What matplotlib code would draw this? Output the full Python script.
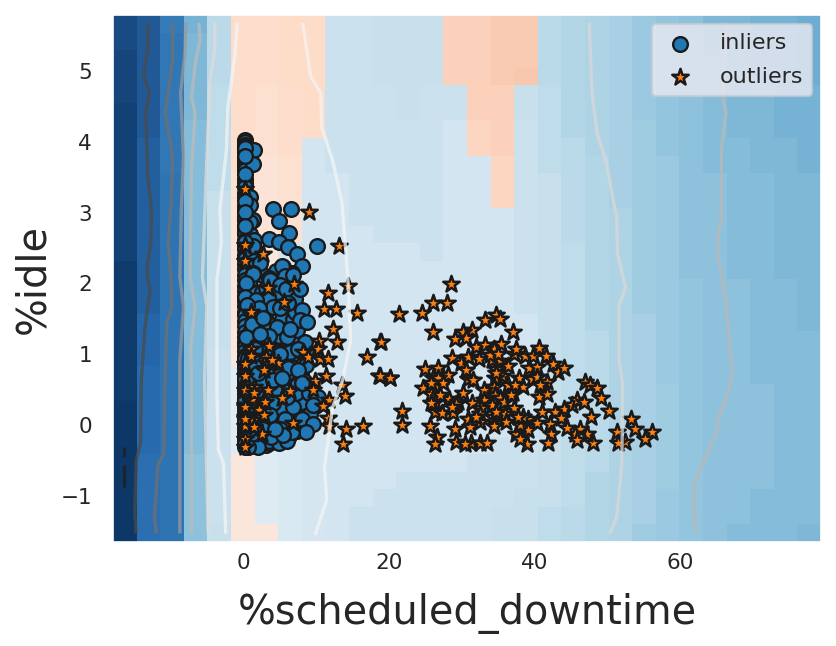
import matplotlib
matplotlib.use("Agg")
import matplotlib.pyplot as plt
import numpy as np

W, H = 837, 646
xlim = (-18.0, 79.4)
ylim = (-1.65, 5.79)

# decision score on a 30 x 30 grid, top row first (percent position on RdBu)
score_rows = [
 [96,93,86,74,64,41,41,40,40,61,61,62,62,62,38,38,37,37,64,65,66,67,69,70,71,73,73,74,74,75],
 [96,93,87,73,64,41,41,40,40,61,61,62,62,62,38,38,37,37,64,65,66,67,69,70,71,73,73,74,74,75],
 [97,93,87,73,64,41,41,40,40,61,61,62,62,62,38,38,37,37,64,65,66,67,69,70,71,72,73,74,74,75],
 [97,93,87,73,64,41,41,40,40,61,61,62,62,62,38,38,37,36,64,65,66,67,69,70,71,72,73,74,74,75],
 [97,93,87,73,63,41,42,41,40,61,61,61,62,61,61,38,38,62,63,65,66,67,69,70,71,72,73,73,74,74],
 [98,93,87,73,63,41,42,41,40,61,61,61,62,61,61,38,38,62,63,65,66,67,69,70,71,72,73,73,74,74],
 [98,93,87,72,63,41,42,41,40,61,61,61,61,61,60,39,38,61,63,65,66,67,68,70,71,72,73,73,74,74],
 [98,92,87,72,63,41,42,41,60,61,61,61,61,61,60,39,38,61,63,64,66,67,68,70,71,72,72,73,73,74],
 [98,92,87,72,63,41,43,42,60,61,61,61,61,61,60,60,39,61,63,64,65,67,68,69,71,72,72,73,73,74],
 [98,92,88,72,63,42,43,42,60,60,61,61,61,61,60,60,39,61,62,64,65,67,68,69,71,71,72,72,73,73],
 [98,92,88,72,62,42,43,42,60,60,61,61,61,61,60,60,39,61,62,64,65,67,68,69,71,71,72,72,73,73],
 [98,92,88,72,62,42,43,42,60,60,61,61,61,61,60,60,60,61,62,64,65,66,68,69,71,71,72,72,73,73],
 [98,92,88,72,62,42,43,42,60,60,60,61,61,61,60,60,60,61,62,64,65,66,68,69,71,71,72,72,73,73],
 [98,92,88,72,62,43,44,59,60,60,60,60,60,61,60,60,60,61,62,63,65,66,68,69,71,71,72,72,73,73],
 [99,92,88,72,62,43,44,59,60,60,60,60,60,60,60,60,60,61,62,63,65,66,68,69,71,71,72,72,73,73],
 [99,92,88,72,62,43,57,59,60,60,60,60,60,60,60,60,60,61,62,63,65,66,68,69,70,71,71,72,72,73],
 [99,92,88,72,62,43,57,59,60,60,60,60,60,60,60,60,60,61,62,63,65,66,68,69,70,71,71,72,72,73],
 [99,91,88,72,62,43,57,59,59,60,60,60,60,60,60,60,60,60,62,63,65,66,67,69,70,71,71,72,72,73],
 [99,91,88,72,62,44,57,59,59,60,60,60,60,60,60,60,60,60,62,63,64,66,67,69,70,71,71,72,72,72],
 [99,91,88,72,61,44,57,59,59,60,60,60,60,60,60,60,60,60,62,63,64,66,67,69,70,71,71,72,72,72],
 [99,90,88,72,61,57,57,58,59,60,60,60,60,60,60,60,60,60,62,63,64,66,67,69,70,71,71,72,72,72],
 [99,90,88,72,61,57,57,58,59,60,60,60,60,60,60,60,60,60,62,63,64,66,67,68,70,71,71,71,72,72],
 [100,90,88,72,61,57,57,58,59,60,60,60,60,60,60,60,60,60,62,63,64,66,67,68,70,71,71,71,72,72],
 [100,90,88,72,61,57,57,58,59,60,60,60,60,60,60,60,60,61,62,63,64,66,67,68,70,71,71,71,72,72],
 [100,90,88,72,61,57,57,58,59,60,60,60,60,60,60,60,61,61,62,63,64,66,67,68,70,71,71,71,72,72],
 [100,89,88,71,61,44,57,58,59,60,60,60,60,60,60,61,61,61,62,63,64,66,67,68,70,71,71,71,72,72],
 [100,89,88,71,61,44,57,58,59,60,60,60,61,61,61,61,61,61,62,63,65,66,67,68,70,71,71,71,72,72],
 [100,89,88,71,61,44,57,58,59,60,60,61,61,61,61,61,61,62,62,63,65,66,67,69,70,71,71,72,72,72],
 [100,89,88,71,61,44,57,58,59,60,61,61,61,61,61,61,62,62,63,64,65,66,67,69,70,71,71,72,72,72],
 [100,89,88,71,62,44,44,58,59,60,61,61,61,61,61,61,62,62,63,64,65,66,68,69,70,71,72,72,72,73],
]

inlier_column = [
 (0.15,4.02),(0.15,3.99),(0.15,3.96),(0.15,3.93),(0.15,3.88),(0.15,3.85),(0.15,3.75),(0.15,3.70),(0.15,3.65),(0.15,3.60),
 (0.15,3.48),(0.15,3.42),(0.15,3.36),(0.15,3.28),(0.15,3.22),(0.15,3.10),(0.15,3.05),(0.15,2.95),(0.15,2.90),(0.15,2.83),
 (0.15,2.75),(0.15,2.70),(0.15,2.62),(0.15,2.55),(0.15,2.48),(0.15,2.40),(0.15,2.35),(0.15,2.28),(0.15,2.20),(0.15,2.12),
 (0.15,2.05),(0.15,1.96),(0.15,1.90),(0.15,1.82),(0.15,1.75),(0.15,1.68),(0.15,1.60),(0.15,1.55),(0.15,1.47),(0.15,1.40),
 (0.15,1.32),(0.15,1.25),(0.15,1.18),(0.15,1.12),(0.15,1.05),(0.15,0.98),(0.15,0.92),(0.15,0.86),(0.15,0.80),(0.15,0.74),
 (0.15,0.68),(0.15,0.62),(0.15,0.56),(0.15,0.50),(0.15,0.44),(0.15,0.38),(0.15,0.32),(0.15,0.26),(0.15,0.20),(0.15,0.14),
 (0.15,0.08),(0.15,0.02),(0.15,-0.04),(0.15,-0.09),(0.15,-0.14),(0.15,-0.19),(0.15,-0.23),(0.15,-0.27),(0.15,-0.31),
 (0.3,0.92),(0.4,0.78),(0.3,0.64),(0.5,0.47),(0.3,0.33),(0.4,0.18),(0.3,0.04),(0.5,-0.11),(0.4,-0.24),
 (0.15,0.95),(0.15,0.65),(0.15,0.35),(0.15,0.05),(0.15,-0.25),
]
inlier_dense = [
 (0.6,0.95),(1.1,0.88),(0.8,0.72),(1.4,0.66),(0.7,0.55),(1.2,0.48),(0.9,0.38),(1.5,0.30),(0.7,0.22),(1.2,0.15),
 (0.8,0.06),(1.4,-0.02),(0.7,-0.10),(1.1,-0.18),(0.8,-0.26),(1.5,-0.29),(2.0,0.90),(2.3,0.78),(1.9,0.62),(2.4,0.52),
 (2.0,0.40),(2.5,0.28),(1.9,0.18),(2.4,0.06),(2.0,-0.06),(2.6,-0.16),(2.2,-0.24),(3.0,-0.28),(3.0,0.80),(3.2,0.66),
 (2.9,0.44),(3.4,0.38),(3.0,0.24),(3.3,0.10),(2.9,0.00),(3.4,-0.10),(3.5,-0.25),(3.8,0.90),(3.9,0.72),(4.2,0.55),
 (3.8,0.42),(4.3,0.22),(3.9,0.05),(4.4,-0.10),(4.1,-0.22),(4.8,0.86),(4.9,0.70),(5.2,0.52),(4.8,0.35),(5.3,0.12),
 (4.7,0.02),(5.5,-0.04),(4.8,-0.16),(5.8,0.90),(6.0,0.62),(6.2,0.48),(6.3,0.30),(6.4,0.10),(6.0,-0.04),(6.2,-0.16),
 (6.9,0.92),(7.0,0.68),(7.2,0.55),(7.1,0.36),(7.4,0.16),(7.0,0.00),(7.3,-0.08),(7.9,0.74),(8.3,0.62),(8.2,0.44),
 (8.5,0.24),(8.1,-0.02),(1.0,1.35),(1.8,1.28),(0.8,1.22),(1.3,1.15),(2.6,1.20),(3.0,1.05),(2.4,1.02),(3.6,1.18),
 (4.4,1.14),(4.2,1.00),(5.3,1.18),(5.6,0.98),(6.7,1.18),(6.8,1.00),(7.9,1.05),(8.6,1.05),(0.8,1.62),(1.4,1.55),
 (2.4,1.50),(3.1,1.48),(3.6,1.42),(5.2,1.50),(5.4,1.35),(6.7,1.50),(7.0,1.60),(7.3,1.35),(4.4,1.68),(3.3,1.70),
 (0.9,1.95),(1.5,1.88),(2.5,1.88),(3.0,1.94),(4.4,1.86),(6.6,1.85),(7.1,1.78),(1.0,2.42),(1.4,2.32),(0.9,2.05),
 (1.1,3.88),(0.9,2.70),(1.4,2.62),(2.6,2.12),(4.4,2.18),(6.2,2.02),
 (1.6,0.82),(2.6,0.70),(1.1,0.62),(2.2,0.34),(1.3,0.24),(2.8,0.12),(1.7,0.10),(2.1,-0.16),(3.1,-0.14),(1.3,-0.13),
 (3.3,0.56),(2.7,0.60),(3.6,0.28),(4.7,0.46),(4.5,0.10),(5.8,0.22),(6.7,0.14),(5.9,0.74),(7.6,0.44),(6.5,0.82),
 (2.2,1.12),(1.2,1.00),(3.8,1.32),(4.9,1.26),(1.9,1.42),(2.9,1.36),(3.4,-0.22),(4.9,-0.25),(5.9,-0.22),(7.9,0.20),
]
inlier_visible = [
 (1.4,3.88),(1.3,3.69),(0.8,3.22),(0.8,3.11),(1.2,2.89),(0.8,2.87),(1.2,2.53),
 (0.15,3.91),(0.15,3.80),(0.15,3.55),(0.15,3.16),(0.15,3.01),(0.15,2.81),(0.15,2.58),
 (4.0,3.05),(6.5,3.05),(4.8,2.88),(6.2,2.71),(3.4,2.63),(4.8,2.58),(6.1,2.51),(7.3,2.41),(10.0,2.53),
 (8.0,2.25),(5.4,2.23),(2.2,2.29),(1.2,2.15),(3.4,2.08),(6.6,2.15),(5.4,2.09),
 (5.3,2.24),(1.3,2.14),(0.3,2.01),(5.6,2.10),(3.6,2.05),(6.8,2.12),(5.0,1.98),(5.8,1.92),(7.7,1.92),
 (0.2,1.81),(3.3,1.81),(1.7,1.77),(4.0,1.67),(5.0,1.65),(8.0,1.62),(2.1,1.65),(0.4,1.69),(6.1,1.72),
 (7.7,1.48),(8.7,1.46),(1.1,1.43),(2.7,1.51),(4.6,1.38),(6.0,1.25),(0.3,1.24),(3.4,1.26),(6.3,1.36),
 (2.2,1.29),(8.4,1.18),(5.0,1.03),(6.3,1.03),(7.5,1.08),(1.5,1.08),(3.6,0.99),
 (5.0,1.01),(6.1,0.80),(8.6,0.85),(7.5,0.78),(4.0,0.64),(2.0,0.73),(5.2,0.66),(1.7,0.47),(8.0,0.33),
 (9.1,0.16),(8.0,0.09),(9.5,0.02),(8.6,-0.10),(5.2,0.21),(6.8,0.26),(4.0,0.31),(3.6,0.14),(5.6,0.09),
 (5.0,-0.05),(6.6,-0.10),(3.8,-0.17),(2.7,-0.05),(5.4,-0.14),(1.5,-0.24),(2.0,-0.31),(0.6,-0.31),
 (4.3,-0.05),(7.2,0.45),(8.9,0.45),(5.9,0.40),(8.0,0.59),(10.2,0.40),(9.5,0.28),
]
outlier_near = [
 (0.2,3.33),(0.2,2.55),(0.2,2.32),(2.6,2.41),(3.3,1.93),(6.9,1.99),(5.5,1.74),(1.0,1.60),
 (9.0,3.01),(13.1,2.53),(11.6,1.86),(14.3,1.96),(11.0,1.64),(12.7,1.64),(15.5,1.58),(12.2,1.36),
 (12.8,1.17),(10.3,1.19),(10.2,1.08),(3.4,1.12),(1.0,1.07),(1.0,0.97),(3.0,0.96),(8.1,1.03),(8.8,0.96),
 (10.5,0.94),(11.6,0.94),(11.3,0.69),(9.8,0.62),(9.5,0.50),(6.3,0.48),(3.3,0.50),(0.2,0.86),(0.2,0.70),
 (2.75,0.78),(4.7,0.88),(3.9,0.92),(0.2,0.50),(1.1,0.35),(2.9,0.33),(5.2,0.38),(0.2,0.29),(2.1,0.21),(0.2,0.12),
 (1.2,0.07),(0.2,-0.01),(2.5,-0.13),(6.8,0.03),(0.2,-0.19),(0.2,-0.31),(11.7,0.35),(10.9,0.27),(11.6,0.10),
 (11.7,-0.01),(14.0,-0.06),(13.6,-0.27),(13.5,0.56),(13.9,0.41),(1.4,0.54),(1.4,0.45),(0.2,0.25),(0.2,0.08),
 (1.4,-0.03),(2.8,0.14),(16.9,0.96),(18.8,1.17),(18.6,0.69),(20.1,0.66),(16.4,-0.01),
]
outlier_far = [
 (28.5,1.99),(26.0,1.73),(28.0,1.73),(24.5,1.59),(21.4,1.57),(26.0,1.32),(18.9,1.17),(33.2,1.48),(34.7,1.55),(35.3,1.50),
 (37.0,1.31),(31.4,1.34),(30.2,1.32),(30.6,1.23),(29.0,1.22),(31.9,1.11),(33.2,1.13),(34.4,1.08),(35.4,1.15),(37.1,1.01),
 (37.5,1.08),(38.7,0.97),(39.8,0.97),(40.6,1.09),(41.6,0.98),(42.5,0.87),(43.2,0.75),(44.1,0.80),(28.7,0.95),(29.9,0.88),
 (30.8,0.96),(32.3,0.94),(34.1,0.92),(35.2,0.91),(36.4,0.83),(34.7,0.79),(39.2,0.80),(40.3,0.82),(24.9,0.79),(26.7,0.81),
 (20.1,0.67),(18.8,0.70),(24.6,0.53),(26.5,0.54),(27.4,0.68),(28.1,0.71),(26.0,0.66),(26.7,0.66),(30.8,0.65),(30.6,0.78),
 (35.5,0.69),(34.5,0.67),(37.9,0.66),(39.6,0.65),(41.7,0.61),(38.4,0.54),(36.3,0.56),(34.4,0.54),(33.1,0.50),(30.1,0.46),
 (25.8,0.44),(28.2,0.37),(29.5,0.33),(26.3,0.33),(37.0,0.46),(40.6,0.40),(41.7,0.44),(34.5,0.42),(35.2,0.38),(33.0,0.36),
 (31.4,0.31),(34.2,0.28),(35.8,0.33),(37.1,0.24),(32.6,0.24),(26.3,0.18),(27.3,0.17),(28.8,0.17),(29.2,0.30),(30.8,0.08),
 (32.5,0.16),(35.9,0.16),(34.3,0.12),(34.7,0.19),(39.1,0.09),(41.0,0.18),(42.8,0.19),(44.0,0.23),(43.7,0.10),(45.1,0.28),
 (45.8,0.36),(46.8,0.33),(47.0,0.61),(47.6,0.57),(48.6,0.52),(49.2,0.39),(50.3,0.20),(47.7,0.12),(53.3,0.09),(53.8,-0.05),
 (56.2,-0.09),(55.2,-0.19),(52.5,-0.24),(51.3,-0.10),(51.5,-0.25),(48.1,-0.25),(47.2,-0.12),(46.2,-0.05),(45.5,-0.13),(45.8,-0.21),
 (44.5,-0.04),(42.1,0.02),(42.3,-0.12),(41.9,-0.25),(40.3,0.03),(38.9,-0.26),(39.1,-0.07),(37.5,-0.13),(38.0,-0.19),(36.0,0.04),
 (34.4,-0.01),(31.1,-0.03),(29.0,-0.06),(26.6,-0.17),(26.3,-0.26),(29.2,-0.24),(31.3,-0.25),(32.5,-0.25),(33.5,-0.25),(30.4,-0.26),
 (25.6,-0.01),(21.7,0.20),(21.7,0.00),(32.5,0.05),(32.0,0.12),(38.0,0.00),(38.4,0.12),(37.7,0.12),
 (27.4,0.59),(25.8,0.59),(27.0,0.42),(28.6,0.26),(25.8,0.31),(31.5,0.64),(33.8,0.99),(35.0,1.01),(34.7,0.73),(37.3,0.57),
 (40.3,0.68),(40.7,0.57),(36.8,0.42),
]

# contour traces: (x list, y list, colour)
line_a = ([-13.2,-13.2,-13.8,-13.0,-13.5,-13.2,-12.7,-12.8,-13.3,-13.2,-12.9,-13.6,-14.1,-14.2,-14.8,-15.0,-14.8],
          [5.68,5.30,4.94,4.69,4.41,3.50,3.04,2.57,2.23,2.05,1.91,1.38,0.64,-0.25,-0.49,-1.24,-1.53], '#4a4a4a')
line_b = ([-9.8,-9.8,-10.2,-10.8,-9.8,-10.0,-10.4,-10.0,-9.9,-10.6,-10.9,-11.0,-11.8,-12.3,-12.0],
          [5.68,5.16,4.83,4.41,3.79,3.14,2.57,2.05,1.67,1.44,0.40,-0.40,-0.56,-1.30,-1.53], '#707070')
line_c = ([-8.0,-8.1,-8.7,-8.3,-8.6,-8.8,-8.3,-8.8,-8.8],
          [5.68,5.25,4.69,3.79,3.04,2.09,1.67,0.92,-1.53], '#999999')
line_d = ([-6.2,-6.0,-6.6,-7.2,-6.7,-7.2,-7.4,-6.7,-7.3,-7.2,-7.2],
          [5.68,5.44,5.16,4.63,4.41,3.60,2.09,1.67,1.10,0.64,-1.53], '#bbbbbb')
line_e = ([-4.0,-4.0,-4.7,-4.8,-5.1,-5.7,-5.1,-5.4,-4.9],
          [5.68,5.30,4.83,4.48,3.72,2.09,1.67,0.64,-1.53], '#dddddd')
line_f = ([-0.9,-1.2,-2.2,-2.4,-3.3,-3.1,-3.7,-3.7,-3.5,-2.8,-2.5],
          [5.68,5.25,4.48,3.88,3.04,2.57,2.05,0.45,-0.35,-0.54,-1.53], '#f4f4f4')
line_g = ([8.1,9.2,10.6,10.7,12.2,13.5,14.3,14.7,13.6,12.2,11.6,11.1,11.4,9.8],
          [5.68,4.92,4.69,4.21,3.74,3.14,2.09,1.20,0.64,0.25,-0.21,-0.59,-1.06,-1.55], '#f4f4f4')
line_h = ([47.5,47.9,48.6,49.9,50.8,51.3,51.4,52.5,51.6,51.6,52.1,52.1,52.0,51.3,50.3],
          [5.68,4.69,4.12,3.70,3.18,2.94,2.43,1.94,1.69,0.92,0.59,0.25,-0.54,-1.30,-1.54], '#d8d8d8')
line_i = ([66.4,65.9,66.3,65.7,65.7,65.2,65.2,66.4,66.8,67.2,66.4,65.5,65.0,62.0,61.9,62.2],
          [5.68,4.63,4.41,3.88,2.94,2.66,2.40,1.72,1.16,0.71,0.40,0.17,-0.11,-0.82,-1.06,-1.54], '#b8b8b8')
dash_1 = ([-16.5,-16.5], [-0.31,-0.45], '#1e1e1e')
dash_2 = ([-16.5,-16.5], [-0.56,-0.88], '#1e1e1e')

xticks = [0, 20, 40, 60]
yticks = [-1, 0, 1, 2, 3, 4, 5]
xlabel = "%scheduled_downtime"
ylabel = "%idle"
TEXT = "#262626"
EDGE = "#1a1a1a"

fig = plt.figure(figsize=(W / 100, H / 100), dpi=100)
ax = fig.add_axes([113 / W, 1 - 542 / H, 708 / W, 527 / H])

Z = np.array(score_rows, dtype=float)[::-1]
xe = np.linspace(xlim[0], xlim[1], Z.shape[1] + 1)
ye = np.linspace(ylim[0], ylim[1], Z.shape[0] + 1)
ax.pcolormesh(xe, ye, Z, cmap="RdBu", vmin=0, vmax=100, alpha=0.97,
              shading="flat", antialiased=True, edgecolor="none", linewidth=0, zorder=1)

inliers = inlier_column + inlier_dense + inlier_visible
outliers = outlier_near + outlier_far
ix, iy = zip(*inliers)
ox, oy = zip(*outliers)
ax.scatter(ix, iy, s=112, c="#1f77b4", edgecolors=EDGE, linewidths=1.7, zorder=3, label="inliers")
ax.scatter(ox, oy, s=155, marker="*", c="#ff7f0e", edgecolors=EDGE, linewidths=1.8, zorder=4, label="outliers")

for lx, ly, col in [line_a, line_b, line_c, line_d, line_e, line_f, line_g, line_h, line_i, dash_1, dash_2]:
    ax.plot(lx, ly, color=col, lw=2.4, alpha=0.75, zorder=5, solid_capstyle="butt")

ax.set_xlim(*xlim)
ax.set_ylim(*ylim)
ax.set_xticks(xticks)
ax.set_yticks(yticks)
ax.tick_params(axis="both", length=0, labelsize=15.5, labelcolor=TEXT)
ax.tick_params(axis="x", pad=8)
ax.tick_params(axis="y", pad=15)
ax.set_xlabel(xlabel, fontsize=28.6, color=TEXT, labelpad=14)
ax.set_ylabel(ylabel, fontsize=28.6, color=TEXT, labelpad=5.5)
for s in ax.spines.values():
    s.set_color("white")
    s.set_linewidth(1.2)

leg = ax.legend(loc="upper right", fontsize=16, frameon=True, framealpha=0.8, edgecolor="#c4ccd6",
                facecolor="#EAEAF2", fancybox=True, handlelength=1.77, handletextpad=0.9, borderpad=0.4,
                labelspacing=0.62, bbox_to_anchor=(0.9875, 0.982), borderaxespad=0)
leg.get_frame().set_linewidth(1.6)
leg.set_zorder(6)
for t in leg.get_texts():
    t.set_color(TEXT)

fig.savefig("out.png", dpi=100)
